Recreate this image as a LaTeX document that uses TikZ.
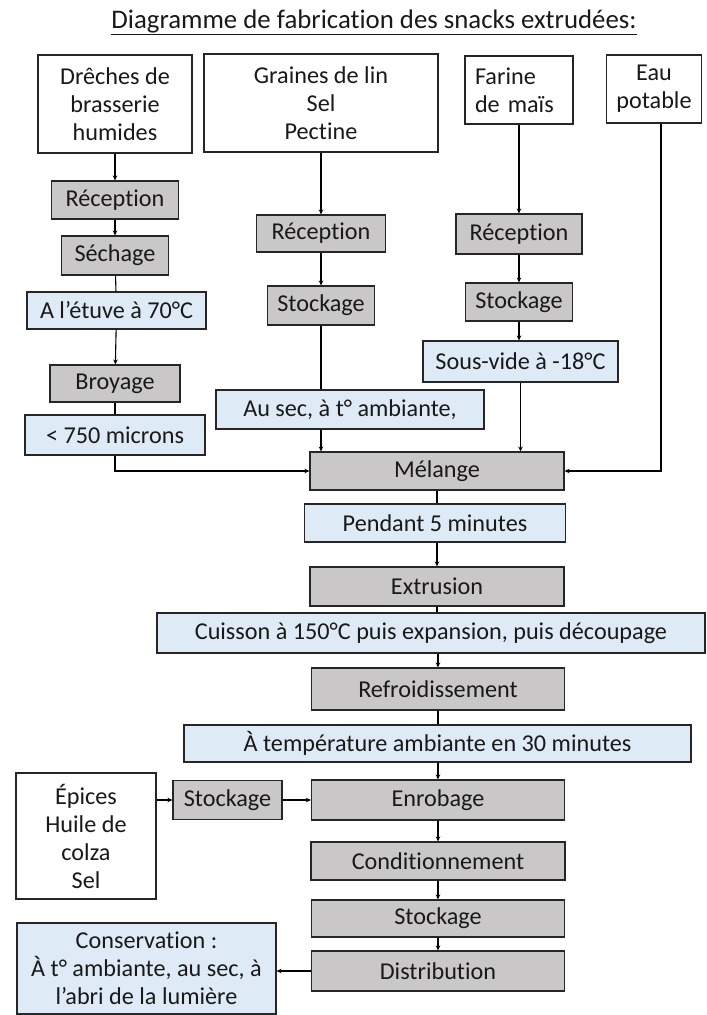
\documentclass[tikz,border=0pt]{standalone}
\usepackage{fontspec}
\setmainfont[RawFeature=-liga]{Carlito}
\usetikzlibrary{arrows.meta}

\definecolor{grisclair}{RGB}{201,199,199}
\definecolor{bleuclair}{RGB}{222,235,247}

\begin{document}
\begin{tikzpicture}[x=1pt,y=-1pt,line width=1.1pt,
    every node/.style={font=\fontsize{24.2}{28}\selectfont,text=black!90},
    boite/.style={draw=black!85,inner sep=0pt,align=center},
    matiere/.style={boite,fill=white},
    etape/.style={boite,fill=grisclair},
    cond/.style={boite,fill=bleuclair},
    fl/.style={-{Stealth[length=5pt,width=4.5pt]}}]
    \useasboundingbox (0,0) rectangle (707,1015);

    \node[font=\fontsize{26.8}{30}\selectfont] (titre) at (374,22)
        {\underline{Diagramme de fabrication des snacks extrudées:}};

    % matieres premieres
    \node[matiere,minimum width=154pt,minimum height=98pt] (drech) at (115,104)
        {Drêches de\\brasserie\\humides};
    \node[matiere,minimum width=234pt,minimum height=98pt] (graines) at (321,103)
        {Graines de lin\\Sel\\Pectine};
    \node[matiere,inner xsep=10pt,text width=88pt,align=left,minimum height=68pt] (farine) at (519,90)
        {Farine\\de maïs};
    \node[matiere,minimum width=95pt,minimum height=68pt] (eau) at (654,89)
        {Eau\\potable};

    % drêches
    \node[etape,minimum width=127pt,minimum height=38pt] (recA) at (115,200) {Réception};
    \node[etape,minimum width=107pt,minimum height=39pt] (sechage) at (115,255.5) {Séchage};
    \node[cond,minimum width=179pt,minimum height=37pt] (etuve) at (116.5,310.5) {A l’étuve à 70°C};
    \node[etape,minimum width=130pt,minimum height=37pt] (broyage) at (115,383.5) {Broyage};
    \node[cond,minimum width=180pt,minimum height=40pt] (micron) at (115,435) {< 750 microns};

    % graines, sel, pectine
    \node[etape,minimum width=129pt,minimum height=37pt] (recB) at (321,233.5) {Réception};
    \node[etape,minimum width=107pt,minimum height=39pt] (stockB) at (321,305.5) {Stockage};
    \node[cond,minimum width=268pt,minimum height=39pt] (ausec) at (350,409.5) {Au sec, à t° ambiante,};

    % farine
    \node[etape,minimum width=126pt,minimum height=40pt] (recC) at (519,234) {Réception};
    \node[etape,minimum width=107pt,minimum height=38pt] (stockC) at (519,302) {Stockage};
    \node[cond,minimum width=195pt,minimum height=41pt] (sousvide) at (520.5,361.5) {Sous-vide à -18°C};

    % chaine principale
    \node[etape,minimum width=254pt,minimum height=38pt] (melange) at (437,471) {Mélange};
    \node[cond,minimum width=261pt,minimum height=38pt] (pendant) at (435,523) {Pendant 5 minutes};
    \node[etape,minimum width=254pt,minimum height=39pt] (extrusion) at (437,586.5) {Extrusion};
    \node[cond,minimum width=548pt,minimum height=40pt] (cuisson) at (431,633)
        {Cuisson à 150°C puis expansion, puis découpage};
    \node[etape,minimum width=253pt,minimum height=42pt] (refroid) at (438,689) {Refroidissement};
    \node[cond,minimum width=507pt,minimum height=37pt] (atemp) at (437.5,743.5)
        {À température ambiante en 30 minutes};
    \node[etape,minimum width=253pt,minimum height=40pt] (enrobage) at (438,800) {Enrobage};
    \node[etape,minimum width=254pt,minimum height=38pt] (condit) at (438,861) {Conditionnement};
    \node[etape,minimum width=253pt,minimum height=37pt] (stockage) at (438,918.5) {Stockage};
    \node[etape,minimum width=253pt,minimum height=40pt] (distrib) at (438,971) {Distribution};

    % enrobage et conservation
    \node[matiere,minimum width=140pt,minimum height=126pt] (epices) at (86,836)
        {Épices\\Huile de\\colza\\Sel};
    \node[etape,minimum width=109pt,minimum height=39pt] (stockD) at (227.5,800) {Stockage};
    \node[cond,minimum width=259pt,minimum height=91pt] (conserv) at (146.5,968.5)
        {Conservation :\\À t° ambiante, au sec, à\\l’abri de la lumière};

    % fleches
    \draw[fl] (drech) -- (recA);
    \draw[fl] (recA) -- (sechage);
    \draw (sechage) -- (etuve);
    \draw[fl] (etuve) -- (broyage);
    \draw (broyage) -- (micron);
    \draw[fl] (micron) |- (melange);

    \draw[fl] (graines) -- (recB);
    \draw[fl] (recB) -- (stockB);
    \draw (stockB) -- (stockB |- ausec.north);
    \draw[fl] (ausec.south -| stockB) -- (melange.north -| stockB);

    \draw[fl] (farine) -- (recC);
    \draw[fl] (recC) -- (stockC);
    \draw[fl] (stockC) -- (stockC |- sousvide.north);
    \draw[fl] (sousvide) -- (melange.north -| sousvide);

    \draw[fl] ([xshift=7pt]eau.south) |- (melange);

    \draw (melange) -- (melange |- pendant.north);
    \draw[fl] (pendant.south -| extrusion) -- (extrusion);
    \draw (extrusion) -- (extrusion |- cuisson.north);
    \draw[fl] (cuisson.south -| refroid) -- (refroid);
    \draw (refroid) -- (refroid |- atemp.north);
    \draw[fl] (atemp.south -| enrobage) -- (enrobage);

    \draw[fl] (epices.east |- stockD) -- (stockD);
    \draw[fl] (stockD) -- (enrobage);
    \draw[fl] (enrobage) -- (condit);
    \draw[fl] (condit) -- (stockage);
    \draw[fl] (stockage) -- (distrib);
    \draw[fl] (distrib) -- (distrib -| conserv.east);
\end{tikzpicture}
\end{document}
